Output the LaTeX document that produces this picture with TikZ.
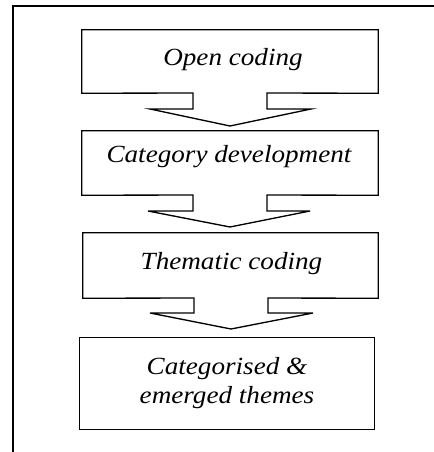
\documentclass[tikz,border=0pt]{standalone}
\usepackage{fontspec}
\newfontfamily\lblfont{Liberation Serif}[FakeStretch=1.1]
\usetikzlibrary{calc}
\begin{document}
\begin{tikzpicture}[x=0.75pt,y=-0.75pt,
  lbl/.style={font=\lblfont\fontsize{18.5}{21.75}\selectfont\itshape, inner sep=0pt},
  boxarea/.style={inner sep=0pt, draw=none},
  outl/.style={line width=1pt, line join=miter},
  frameline/.style={line width=1.5pt}]
\useasboundingbox (0,0) rectangle (434,452);
% outer frame (top and left only)
\draw[frameline] (434,6) -- (13,6) -- (13,452);

% box areas
\node[boxarea, minimum width=222pt, minimum height=47.25pt] (b1) at (230,61.5) {};
\node[boxarea, minimum width=222pt, minimum height=48pt] (b2) at (230,163) {};
\node[boxarea, minimum width=221.25pt, minimum height=48.75pt] (b3) at (230.5,265.5) {};
\node[boxarea, minimum width=220.5pt, minimum height=68.25pt] (b4) at (227,383.5) {};

% box 1 with its arrow
\draw[outl] (b1.south west) -- (b1.north west) -- (b1.north east) -- (b1.south east)
  -- (267,93) -- (267,109) -- (311,109) -- (230,126) -- (150,109) -- (193,109) -- (193,93) -- cycle;
% box 2 with its arrow
\draw[outl] (b2.south west) -- (b2.north west) -- (b2.north east) -- (b2.south east)
  -- (267,195) -- (267,211) -- (310,211) -- (230,227) -- (148,211) -- (193,211) -- (193,195) -- cycle;
% box 3 with its arrow
\draw[outl] (b3.south west) -- (b3.north west) -- (b3.north east) -- (b3.south east)
  -- (268,298) -- (268,313) -- (313,313) -- (231,329) -- (150,313) -- (194,313) -- (194,298) -- cycle;
% box 4
\draw[outl] (b4.south west) rectangle (b4.north east);

% labels
\node[lbl, anchor=base] (t1) at (233,66) {Open coding};
\node[lbl, anchor=base] (t2) at (229,163) {Category development};
\node[lbl, anchor=base] (t3) at (231.5,269) {Thematic coding};
\node[lbl, align=center, anchor=base] (t4) at (227,403) {Categorised \&\\emerged themes};
\end{tikzpicture}
\end{document}
